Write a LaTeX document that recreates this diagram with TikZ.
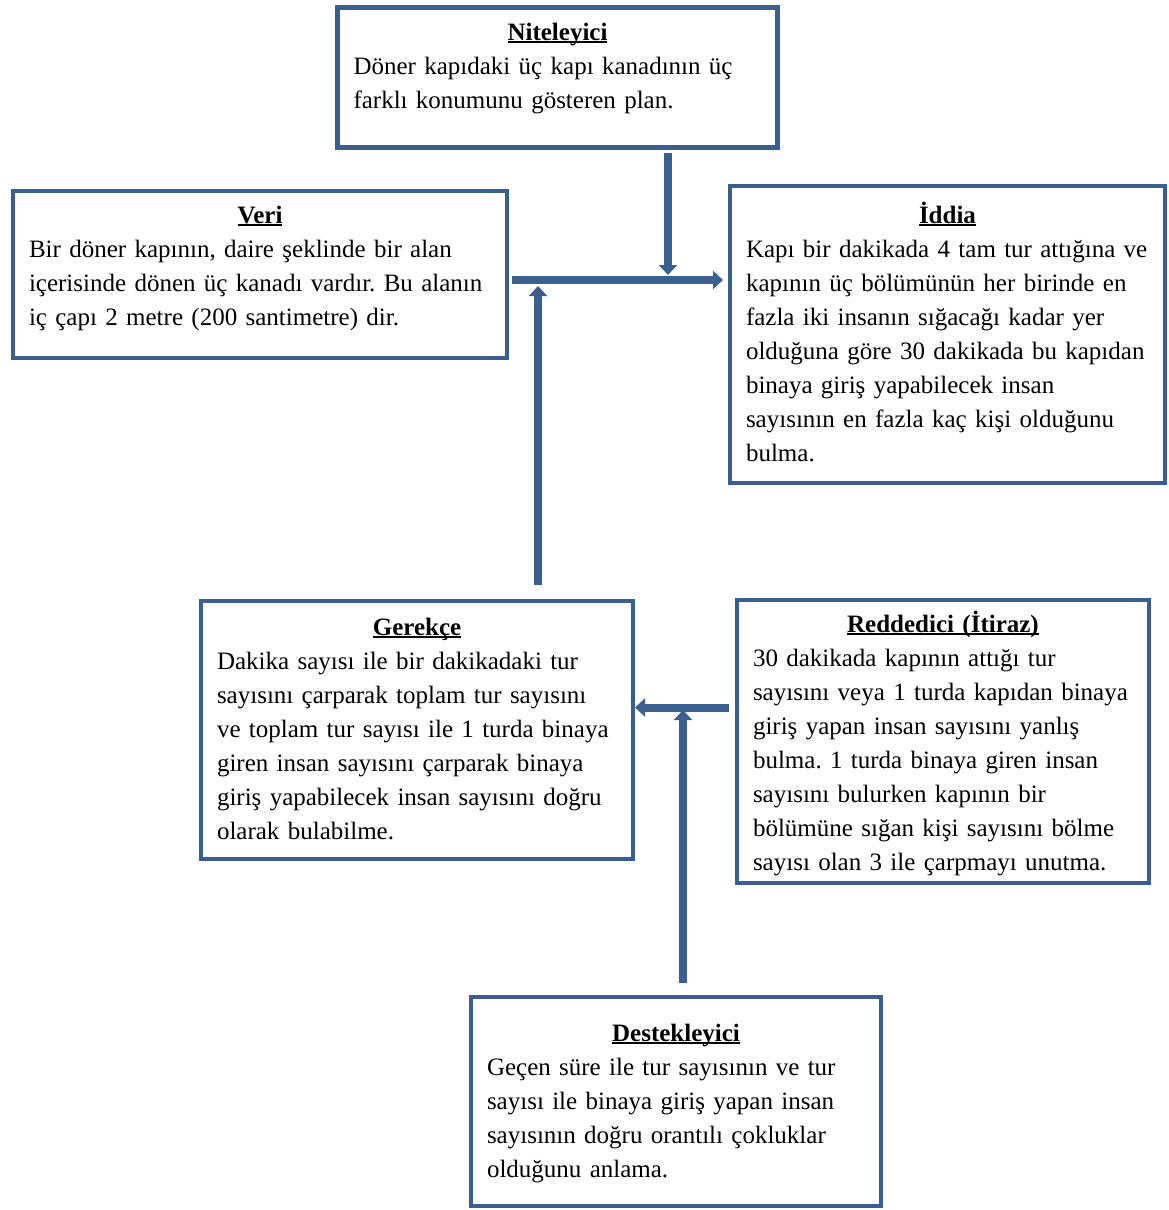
\documentclass[tikz,border=0pt]{standalone}
\usepackage{fontspec}
\setmainfont{Liberation Serif}
\usetikzlibrary{arrows.meta}
\definecolor{frame}{HTML}{3A5E8E}
\frenchspacing
% bold heading with a rule just under the baseline
\newcommand\ttl[1]{\setbox0\hbox{\bfseries #1}\rlap{\rule[-2.5pt]{\wd0}{1.8pt}}\rule{0pt}{17pt}\box0}

\tikzset{
  box/.style={draw=frame, line width=4.5pt, inner sep=0pt, outer sep=0pt, fill=white},
  txt/.style={anchor=north west, inner sep=0pt, outer sep=0pt, align=left,
              font=\fontsize{25}{34}\selectfont},
  link/.style={draw=frame, line width=8pt},
  arr/.style={link, -{Triangle[length=10pt,width=18pt]}},
}

\begin{document}
\begin{tikzpicture}[x=1pt,y=-1pt]
\useasboundingbox (0,0) rectangle (1169,1210);

% frames
\node[box, minimum width=440pt, minimum height=140pt] (nit)   at (557.5,77.5)  {};
\node[box, minimum width=494pt, minimum height=167pt] (veri)  at (260,274.5)   {};
\node[box, minimum width=435pt, minimum height=297pt] (iddia) at (947.5,334.5) {};
\node[box, minimum width=432pt, minimum height=258pt] (ger)   at (417,730)     {};
\node[box, minimum width=412pt, minimum height=283pt] (red)   at (943,741.5)   {};
\node[box, minimum width=410pt, minimum height=209pt] (des)   at (676,1101.5)  {};

% texts
\node[txt, text width=408pt] (nitT) at (353.5,23) {%
  {\centering\ttl{Niteleyici}\par}
  Döner kapıdaki üç kapı kanadının üç\\
  farklı konumunu gösteren plan.};
\node[txt, text width=462pt] (veriT) at (29,206) {%
  {\centering\ttl{Veri}\par}
  Bir döner kapının, daire şeklinde bir alan\\
  içerisinde dönen üç kanadı vardır. Bu alanın\\
  iç çapı 2 metre (200 santimetre) dir.};
\node[txt, text width=403pt] (iddiaT) at (746,202) {%
  {\centering\ttl{İddia}\par}
  Kapı bir dakikada 4 tam tur attığına ve\\
  kapının üç bölümünün her birinde en\\
  fazla iki insanın sığacağı kadar yer\\
  olduğuna göre 30 dakikada bu kapıdan\\
  binaya giriş yapabilecek insan\\
  sayısının en fazla kaç kişi olduğunu\\
  bulma.};
\node[txt, text width=400pt] (gerT) at (217,618) {%
  {\centering\ttl{Gerekçe}\par}
  Dakika sayısı ile bir dakikadaki tur\\
  sayısını çarparak toplam tur sayısını\\
  ve toplam tur sayısı ile 1 turda binaya\\
  giren insan sayısını çarparak binaya\\
  giriş yapabilecek insan sayısını doğru\\
  olarak bulabilme.};
\node[txt, text width=380pt] (redT) at (753,611) {%
  {\centering\ttl{Reddedici (İtiraz)}\par}
  30 dakikada kapının attığı tur\\
  sayısını veya 1 turda kapıdan binaya\\
  giriş yapan insan sayısını yanlış\\
  bulma. 1 turda binaya giren insan\\
  sayısını bulurken kapının bir\\
  bölümüne sığan kişi sayısını bölme\\
  sayısı olan 3 ile çarpmayı unutma.};
\node[txt, text width=378pt] (desT) at (487,1024) {%
  {\centering\ttl{Destekleyici}\par}
  Geçen süre ile tur sayısının ve tur\\
  sayısı ile binaya giriş yapan insan\\
  sayısının doğru orantılı çokluklar\\
  olduğunu anlama.};

% connectors
\coordinate (hl) at (512,280);
\coordinate (dn) at (668,275);
\coordinate (up) at (538,286);
\coordinate (rl) at (700,707.5);
\coordinate (u2) at (683,710);

\draw[link] (hl) -- (dn |- hl);
\draw[arr, shorten >=7pt] (dn |- hl) -- (iddia.west |- hl);
\draw[arr, shorten <=5.5pt] (nit.south -| dn) -- (dn);
\draw[arr, shorten <=16pt] (ger.north -| up) -- (up);
\draw[arr, shorten <=8pt, shorten >=2pt] (red.west |- rl) -- (ger.east |- rl);
\draw[arr, shorten <=14pt] (des.north -| u2) -- (u2);
\end{tikzpicture}
\end{document}
